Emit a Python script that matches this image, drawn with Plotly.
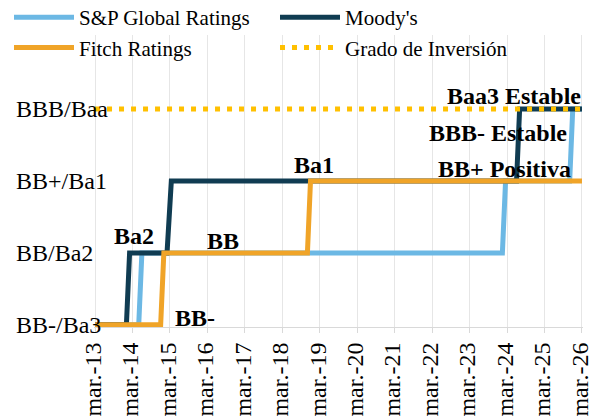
import plotly.graph_objects as go

# Rating scale (numeric levels 0..3)
levels = [0, 1, 2, 3]
level_labels = ["BB-/Ba3", "BB/Ba2", "BB+/Ba1", "BBB/Baa"]

# S&P Global Ratings
sp_dates = ["2013-03-01", "2014-05-01", "2014-06-01", "2024-01-15", "2024-02-15",
            "2025-11-01", "2025-12-01", "2026-03-01"]
sp_vals = [0, 0, 1, 1, 2, 2, 3, 3]

# Moody's
moody_dates = ["2013-03-01", "2014-01-01", "2014-02-01", "2015-02-01", "2015-03-15",
               "2024-06-01", "2024-07-01", "2026-03-01"]
moody_vals = [0, 0, 1, 1, 2, 2, 3, 3]

# Fitch Ratings
fitch_dates = ["2013-03-01", "2014-12-01", "2015-01-01", "2018-11-01", "2018-12-01",
               "2026-03-01"]
fitch_vals = [0, 0, 1, 1, 2, 2]

# Grado de Inversión
ig_dates = ["2013-03-01", "2026-03-01"]
ig_vals = [3, 3]

# X tick labels
tick_dates = ["2013-03-01", "2014-03-01", "2015-03-01", "2016-03-01", "2017-03-01",
              "2018-03-01", "2019-03-01", "2020-03-01", "2021-03-01", "2022-03-01",
              "2023-03-01", "2024-03-01", "2025-03-01", "2026-03-01"]
tick_labels = ["mar.-13", "mar.-14", "mar.-15", "mar.-16", "mar.-17", "mar.-18",
               "mar.-19", "mar.-20", "mar.-21", "mar.-22", "mar.-23", "mar.-24",
               "mar.-25", "mar.-26"]

# Annotations
ann_text = ["Ba2", "BB", "BB-", "Ba1", "Baa3 Estable", "BBB- Estable", "BB+ Positiva"]
ann_x = ["2014-03-15", "2016-08-01", "2015-11-01", "2019-01-01", "2024-05-10",
         "2023-12-01", "2024-02-01"]
ann_y = [1.24, 1.17, 0.10, 2.22, 3.18, 2.67, 2.17]

SERIF = "Liberation Serif, Times New Roman, Times, serif"
C_SP = "#6CB8E4"
C_MOODY = "#103C52"
C_FITCH = "#F0A428"
C_IG = "#FFC000"

fig = go.Figure()
fig.add_trace(go.Scatter(x=sp_dates, y=sp_vals, mode="lines", name="S&P Global Ratings",
                         line=dict(color=C_SP, width=5)))
fig.add_trace(go.Scatter(x=moody_dates, y=moody_vals, mode="lines", name="Moody's",
                         line=dict(color=C_MOODY, width=5)))
fig.add_trace(go.Scatter(x=fitch_dates, y=fitch_vals, mode="lines", name="Fitch Ratings",
                         line=dict(color=C_FITCH, width=5)))
fig.add_trace(go.Scatter(x=ig_dates, y=ig_vals, mode="lines", name="Grado de Inversión",
                         line=dict(color=C_IG, width=5, dash="5px,7px")))

W, H = 601, 419
ml, mr, mt, mb = 0, 18, 35, 92
pw = W - ml - mr
ph = H - mt - mb

# Left-aligned rating labels on the y scale
for lab, lv in zip(level_labels, levels):
    fig.add_annotation(x=14 / pw, xref="paper", y=lv, yref="y", text=lab, showarrow=False,
                       font=dict(family=SERIF, size=24, color="black"),
                       xanchor="left", yanchor="middle")

for t, x, y in zip(ann_text, ann_x, ann_y):
    fig.add_annotation(x=x, y=y, xref="x", yref="y", text=t, showarrow=False,
                       font=dict(family=SERIF, size=24, color="black", weight="bold"),
                       xanchor="center", yanchor="middle")

fig.update_layout(
    width=W, height=H,
    margin=dict(l=ml, r=mr, t=mt, b=mb, autoexpand=False),
    paper_bgcolor="white", plot_bgcolor="white",
    font=dict(family=SERIF, size=21, color="black"),
    showlegend=True,
    legend=dict(orientation="h", x=9 / pw, xanchor="left", y=1 + 38 / ph, yanchor="top",
                font=dict(family=SERIF, size=21, color="black"),
                itemwidth=60, entrywidth=191, entrywidthmode="pixels",
                bgcolor="rgba(0,0,0,0)", tracegroupgap=0),
    xaxis=dict(domain=[94 / pw, 1], type="date", range=["2013-02-19", "2026-03-11"],
               tickmode="array", tickvals=tick_dates, ticktext=tick_labels,
               tickangle=-90, tickfont=dict(family=SERIF, size=24, color="black"),
               ticklabeloverflow="allow", ticklabelshift=-2,
               showgrid=True, gridcolor="#E6E6E6", gridwidth=1,
               showline=True, linecolor="#D9D9D9", linewidth=1,
               ticks="outside", ticklen=5, tickcolor="#D9D9D9", zeroline=False),
    yaxis=dict(range=[-0.03, 4.03], showticklabels=False,
               showgrid=False, showline=False, zeroline=False, ticks=""),
)

fig.write_html("out.html",
               config={"displayModeBar": False, "staticPlot": True},
               post_script="document.body.style.margin='0px';document.body.style.overflow='hidden';")
